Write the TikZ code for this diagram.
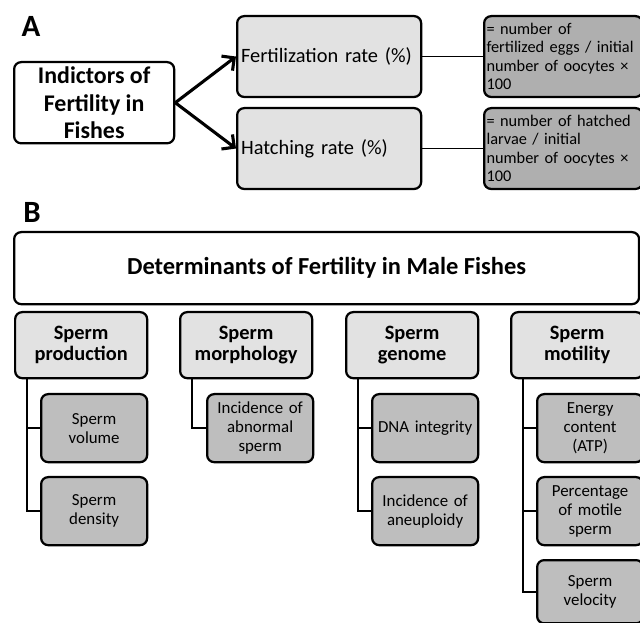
\documentclass[tikz,border=0pt]{standalone}
\usepackage{fontspec}
\setmainfont{Carlito}
\usetikzlibrary{arrows.meta}
\definecolor{boxlight}{HTML}{E2E2E2}
\definecolor{boxmid}{HTML}{BEBEBE}
\definecolor{boxdark}{HTML}{AFAFAF}
\tikzset{
  base/.style={draw, line width=1.6pt, rounded corners=5pt, anchor=north west},
  headbox/.style={base, fill=white, align=center, font=\bfseries\fontsize{17}{19.5}\selectfont},
  ratebox/.style={base, fill=boxlight, align=left, inner xsep=0.1cm,
    text width=4.4cm, minimum height=2.02cm, font=\fontsize{14.5}{17}\selectfont},
  calcbox/.style={base, fill=boxdark, align=left, inner xsep=0.06cm, inner ysep=1pt,
    text width=3.84cm, minimum height=2.02cm, font=\fontsize{11.6}{13}\selectfont},
  catbox/.style={base, fill=boxlight, align=center, minimum width=3.3cm,
    minimum height=1.65cm, font=\bfseries\fontsize{14.5}{15.2}\selectfont},
  subbox/.style={base, fill=boxmid, align=center, text width=2.45cm, inner xsep=0.1cm,
    minimum height=1.7cm, font=\fontsize{12}{13.5}\selectfont},
  panel/.style={font=\bfseries\fontsize{22}{22}\selectfont},
  link/.style={line width=1.3pt}
}
\begin{document}
\begin{tikzpicture}[x=0.025cm, y=-0.025cm, >={Straight Barb[length=6.5pt,width=13pt]}]
  \useasboundingbox (0,0) rectangle (640,623);
  % panel A
  \node[panel] (labA) at (31,26) {A};
  \node[headbox, minimum width=4cm, minimum height=2.02cm] (ind) at (13,61) {Indictors of\\Fertility in\\Fishes};
  \node[ratebox] (fert) at (236,15) {Fertilization rate (\%)};
  \node[ratebox] (hatch) at (236,107) {Hatching rate (\%)};
  \node[calcbox] (fertcalc) at (483,15) {= number of\\fertilized eggs / initial\\number of oocytes ×\\100};
  \node[calcbox] (hatchcalc) at (483,107) {= number of hatched\\larvae / initial\\number of oocytes ×\\100};
  \draw[->, line width=2.2pt] (ind.east) -- (fert.west);
  \draw[->, line width=2.2pt] (ind.east) -- (hatch.west);
  \draw[link] (fert.east) -- (fert.east -| fertcalc.west);
  \draw[link] (hatch.east) -- (hatch.east -| hatchcalc.west);
  % panel B
  \node[panel] (labB) at (32,212) {B};
  \node[headbox, minimum width=15.62cm, minimum height=1.8cm, font=\bfseries\fontsize{17.4}{19.5}\selectfont] (det) at (13,231) {Determinants of Fertility in Male Fishes};
  \node[catbox] (prod) at (14,311) {Sperm\\production};
  \node[catbox] (morph) at (179,311) {Sperm\\morphology};
  \node[catbox] (genome) at (345,311) {Sperm\\genome};
  \node[catbox] (motil) at (510,311) {Sperm\\motility};
  \node[subbox] (vol) at (40,393) {Sperm\\volume};
  \node[subbox] (dens) at (40,476) {Sperm\\density};
  \node[subbox] (abn) at (206,393) {Incidence of\\abnormal\\sperm};
  \node[subbox] (dna) at (371,393) {DNA integrity};
  \node[subbox] (aneu) at (371,476) {Incidence of\\aneuploidy};
  \node[subbox] (atp) at (536,393) {Energy\\content\\(ATP)};
  \node[subbox] (motile) at (536,476) {Percentage\\of motile\\sperm};
  \node[subbox, minimum height=1.58cm] (velo) at (536,559) {Sperm\\velocity};
  % tree links
  \foreach \cat/\sub in {prod/vol, prod/dens, morph/abn, genome/dna, genome/aneu, motil/atp, motil/motile, motil/velo}
    \draw[link] ([xshift=0.33cm]\cat.south west) |- (\sub.west);
\end{tikzpicture}
\end{document}
